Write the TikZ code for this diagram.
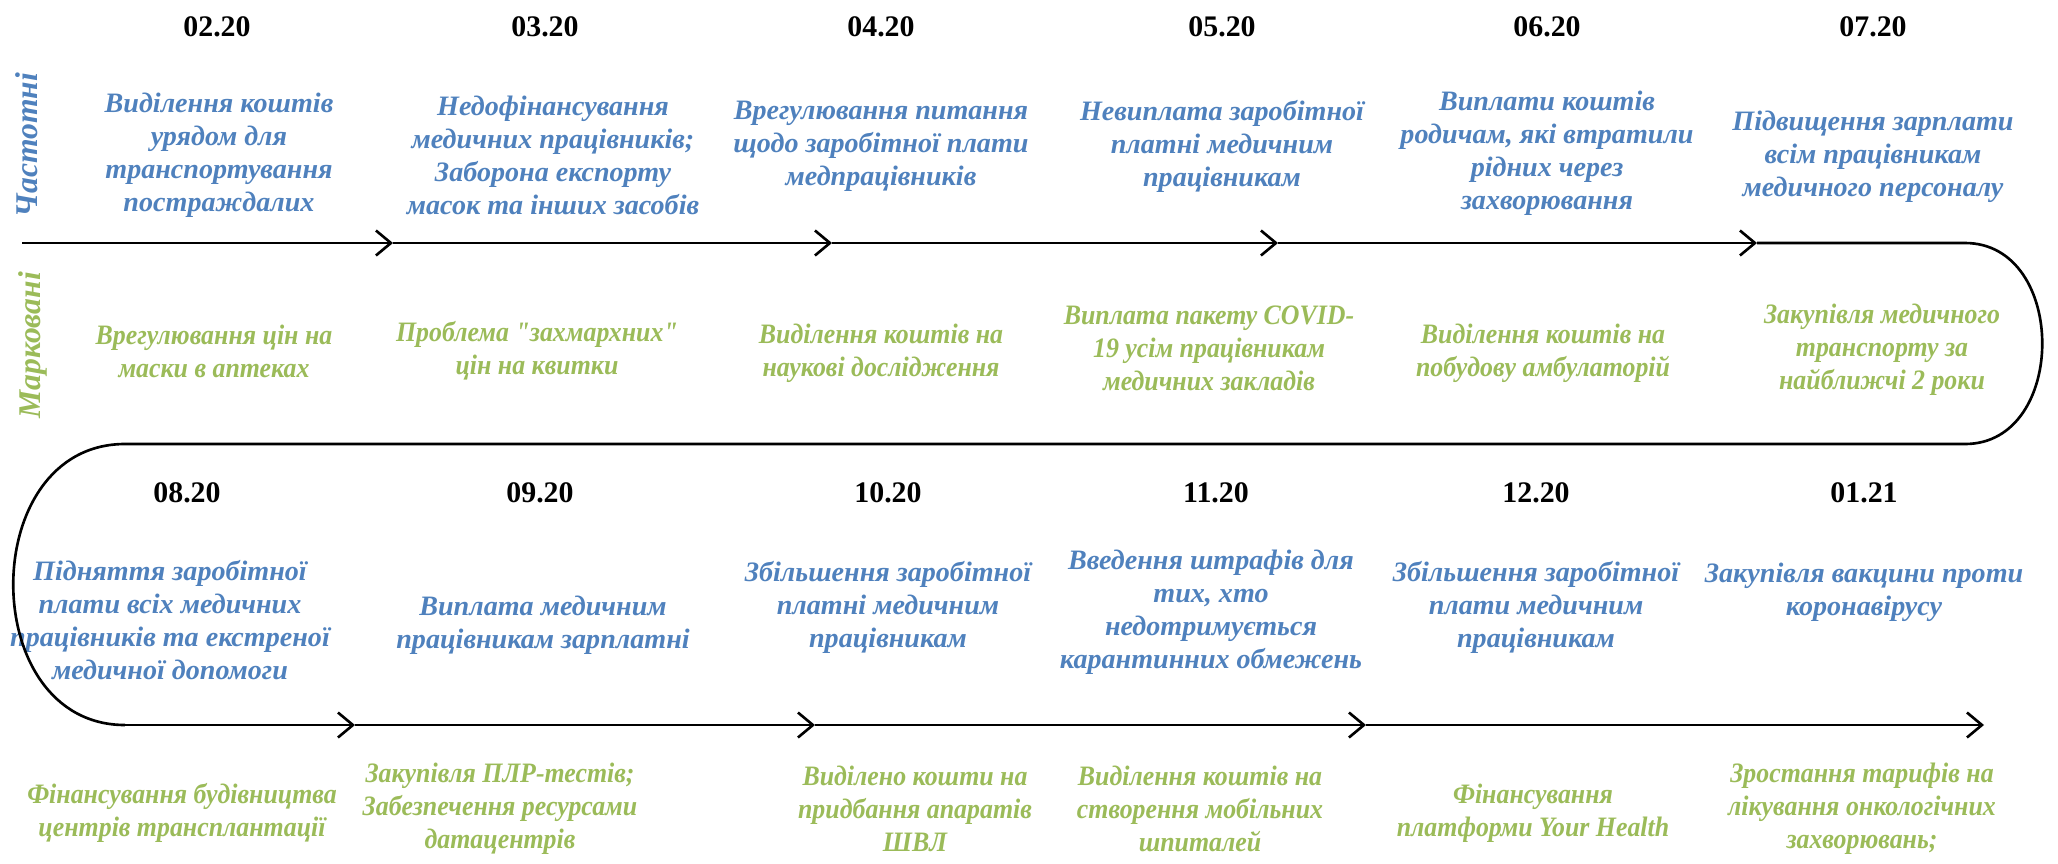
\documentclass[tikz,border=0pt]{standalone}
\usepackage{fontspec}
\setmainfont{Liberation Serif}[Ligatures=TeXOff]
\newfontfamily\greenfont{Liberation Serif}[FakeStretch=0.92, Ligatures=TeXOff]
\usetikzlibrary{arrows.meta}
\definecolor{tblue}{HTML}{4F81BD}
\definecolor{tgreen}{HTML}{9BBB59}
\begin{document}
\begin{tikzpicture}[x=0.02cm,y=-0.02cm,
  datelbl/.style={font=\fontsize{17}{20}\selectfont\bfseries, inner sep=0pt},
  bluetxt/.style={text=tblue, font=\fontsize{16}{18.8}\selectfont\bfseries\itshape, align=center, inner sep=0pt},
  greentxt/.style={text=tgreen, font=\fontsize{16}{18.8}\selectfont\greenfont\bfseries\itshape, align=center, inner sep=0pt},
  sidelbl/.style={font=\fontsize{18}{20}\selectfont\bfseries\itshape, rotate=90, inner sep=0pt},
  tline/.style={line width=1.5pt, black},
  chev/.style={-{Straight Barb[length=0.3cm, width=0.5cm]}}
]
\useasboundingbox (0,0) rectangle (2058,863);

% side labels
\node[sidelbl, text=tblue] (lab1) at (27,145) {Частотні};
\node[sidelbl, text=tgreen] (lab2) at (33,345) {Марковані};

% top dates
\node[datelbl] (d1) at (217,27) {02.20};
\node[datelbl] (d2) at (545,27) {03.20};
\node[datelbl] (d3) at (881,27) {04.20};
\node[datelbl] (d4) at (1222,27) {05.20};
\node[datelbl] (d5) at (1547,27) {06.20};
\node[datelbl] (d6) at (1873,27) {07.20};

% top blue texts
\node[bluetxt] (b1) at (219,155) {Виділення коштів\\урядом для\\транспортування\\постраждалих};
\node[bluetxt] (b2) at (553,155) {Недофінансування\\медичних працівників;\\Заборона експорту\\масок та інших засобів};
\node[bluetxt] (b3) at (881,146) {Врегулювання питання\\щодо заробітної плати\\медпрацівників};
\node[bluetxt] (b4) at (1222,146) {Невиплата заробітної\\платні медичним\\працівникам};
\node[bluetxt] (b5) at (1547,153) {Виплати коштів\\родичам, які втратили\\рідних через\\захворювання};
\node[bluetxt] (b6) at (1873,157) {Підвищення зарплати\\всім працівникам\\медичного персоналу};

% middle green texts
\node[greentxt] (g1) at (214,351) {Врегулювання цін на\\маски в аптеках};
\node[greentxt] (g2) at (537,351) {Проблема "захмархних"\\цін на квитки};
\node[greentxt] (g3) at (881,353) {Виділення коштів на\\наукові дослідження};
\node[greentxt] (g4) at (1209,348) {Виплата пакету COVID-\\19 усім працівникам\\медичних закладів};
\node[greentxt] (g5) at (1543,353) {Виділення коштів на\\побудову амбулаторій};
\node[greentxt] (g6) at (1882,350) {Закупівля медичного\\транспорту за\\найближчі 2 роки};

% lower dates
\node[datelbl] (d7) at (187,493) {08.20};
\node[datelbl] (d8) at (540,493) {09.20};
\node[datelbl] (d9) at (888,493) {10.20};
\node[datelbl] (d10) at (1216,493) {11.20};
\node[datelbl] (d11) at (1536,493) {12.20};
\node[datelbl] (d12) at (1864,493) {01.21};

% lower blue texts
\node[bluetxt] (b7) at (170,620) {Підняття заробітної\\плати всіх медичних\\працівників та екстреної\\медичної допомоги};
\node[bluetxt] (b8) at (543,625) {Виплата медичним\\працівникам зарплатні};
\node[bluetxt] (b9) at (888,607) {Збільшення заробітної\\платні медичним\\працівникам};
\node[bluetxt] (b10) at (1211,612) {Введення штрафів для\\тих, хто\\недотримується\\карантинних обмежень};
\node[bluetxt] (b11) at (1536,607) {Збільшення заробітної\\плати медичним\\працівникам};
\node[bluetxt] (b12) at (1864,592) {Закупівля вакцини проти\\коронавірусу};

% bottom green texts
\node[greentxt] (g7) at (182,813) {Фінансування будівництва\\центрів трансплантації};
\node[greentxt] (g8) at (500,809) {Закупівля ПЛР-тестів;\\Забезпечення ресурсами\\датацентрів};
\node[greentxt] (g9) at (915,809) {Виділено кошти на\\придбання апаратів\\ШВЛ};
\node[greentxt] (g10) at (1200,809) {Виділення коштів на\\створення мобільних\\шпиталей};
\node[greentxt] (g11) at (1533,813) {Фінансування\\платформи Your Health};
\node[greentxt] (g12) at (1862,809) {Зростання тарифів на\\лікування онкологічних\\захворювань;};

% timeline coordinates
\coordinate (t0) at (22,243);
\coordinate (t1) at (393,243);
\coordinate (t2) at (832,243);
\coordinate (t3) at (1278,243);
\coordinate (t4) at (1757,243);
\coordinate (t5) at (1965,243);
\coordinate (m1) at (1965,444);
\coordinate (m2) at (125,444);
\coordinate (u0) at (125,725);
\coordinate (u1) at (355,725);
\coordinate (u2) at (815,725);
\coordinate (u3) at (1366,725);
\coordinate (u4) at (1984,725);

% top line
\draw[tline, chev] (t0) -- (t1);
\draw[tline, chev] (t1) -- (t2);
\draw[tline, chev] (t2) -- (t3);
\draw[tline, chev] (t3) -- (t4);
\draw[tline] (t4) -- (t5) .. controls (2068,243) and (2068,444) .. (m1) -- (m2)
  .. controls (-24,444) and (-24,725) .. (u0);
% bottom line
\draw[tline, chev] (u0) -- (u1);
\draw[tline, chev] (u1) -- (u2);
\draw[tline, chev] (u2) -- (u3);
\draw[tline, chev] (u3) -- (u4);
\end{tikzpicture}
\end{document}
